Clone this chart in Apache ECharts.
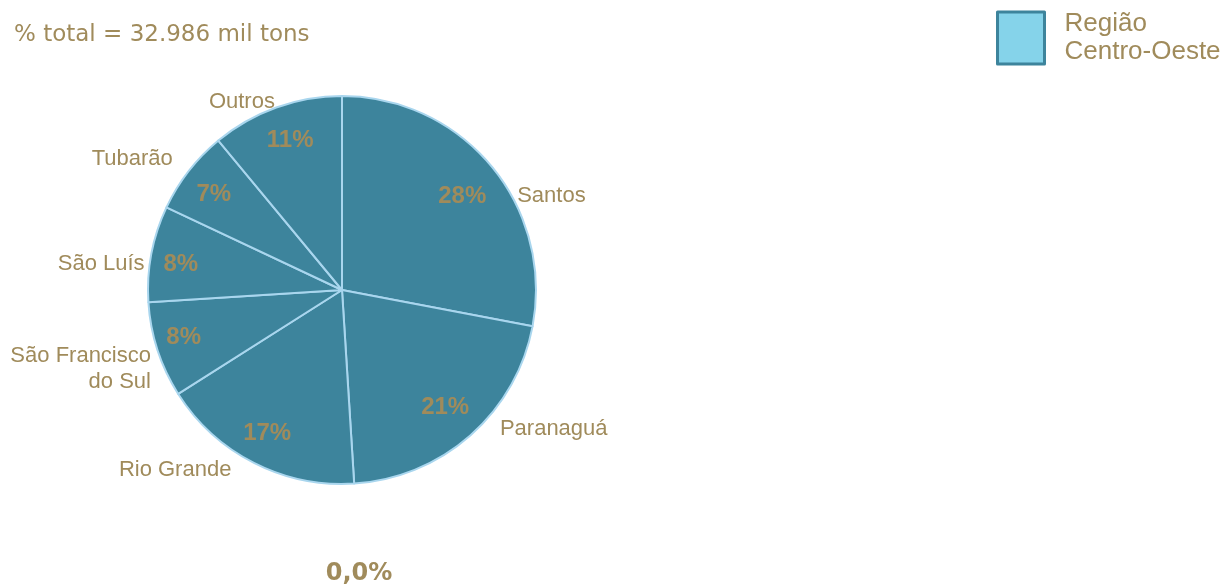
<!DOCTYPE html>
<html>
<head>
<meta charset="utf-8">
<script src="https://cdn.jsdelivr.net/npm/echarts@6/dist/echarts.min.js"></script>
<style>
  html, body { margin: 0; padding: 0; background: #fff; }
  #chart { width: 1226px; height: 586px; }
</style>
</head>
<body>
<div id="chart"></div>
<script>
// portos e participação (%)
const portos = ['Santos', 'Paranaguá', 'Rio Grande', 'São Francisco\ndo Sul', 'São Luís', 'Tubarão', 'Outros'];
const valores = [28, 21, 17, 8, 8, 7, 11];
const titulo = '% total = 32.986 mil tons';
const serieNome = 'Região\nCentro-Oeste';
const rodape = '0,0%';

const gold = '#a08b5b';
const fatia = '#3d849c';
const borda = '#a9d6ee';

// ajustes finos dos rótulos (px), na ordem dos portos
const ajusteNome = [[13, 36], [18, -14], [-13, -2], [8, 16], [8, 12], [-3, -6], [7, 4]];
const ajustePct = [[0, 6], [0, 0], [-4, 4], [-10, -1], [-8, 4], [-5, 0], [1, -3]];

const chart = echarts.init(document.getElementById('chart'));

const dados = portos.map((p, i) => ({ name: p, value: valores[i] }));

const option = {
  animation: false,
  title: [
    {
      text: titulo,
      left: 9,
      top: 19,
      textStyle: { fontFamily: 'DejaVu Sans', fontSize: 23, fontWeight: 'normal', color: gold }
    },
    {
      text: rodape,
      left: 354,
      textAlign: 'center',
      top: 557,
      textStyle: { fontFamily: 'DejaVu Sans', fontSize: 24, fontWeight: 'bold', color: gold }
    }
  ],
  legend: {
    data: [serieNome],
    left: 996,
    top: 9,
    padding: 0,
    orient: 'vertical',
    itemWidth: 47,
    itemHeight: 52,
    icon: 'rect',
    selectedMode: false,
    itemStyle: { color: '#85d3ea', borderColor: fatia, borderWidth: 3 },
    textStyle: {
      fontFamily: 'Liberation Sans',
      fontSize: 26,
      lineHeight: 28,
      color: gold,
      padding: [2, 0, 0, 15]
    }
  },
  series: [
    {
      name: serieNome,
      type: 'pie',
      center: [342, 290],
      radius: [0, 194],
      startAngle: 90,
      clockwise: true,
      avoidLabelOverlap: false,
      silent: true,
      itemStyle: { color: fatia, borderColor: borda, borderWidth: 2 },
      label: {
        show: true,
        position: 'outside',
        formatter: '{b}',
        fontFamily: 'Liberation Sans',
        fontSize: 22,
        lineHeight: 26,
        color: gold
      },
      labelLine: { show: false, length: 10, length2: 0 },
      labelLayout: function (p) {
        const a = ajusteNome[p.dataIndex];
        return { dx: a[0], dy: a[1] };
      },
      data: dados
    },
    {
      type: 'pie',
      center: [342, 290],
      radius: [112, 194],
      startAngle: 90,
      clockwise: true,
      silent: true,
      itemStyle: { color: 'transparent', borderWidth: 0 },
      label: {
        show: true,
        position: 'inside',
        formatter: '{c}%',
        fontFamily: 'Liberation Sans',
        fontSize: 24,
        fontWeight: 'bold',
        color: gold
      },
      labelLine: { show: false },
      labelLayout: function (p) {
        const a = ajustePct[p.dataIndex];
        return { dx: a[0], dy: a[1] };
      },
      data: dados
    }
  ]
};

chart.setOption(option);
</script>
</body>
</html>
